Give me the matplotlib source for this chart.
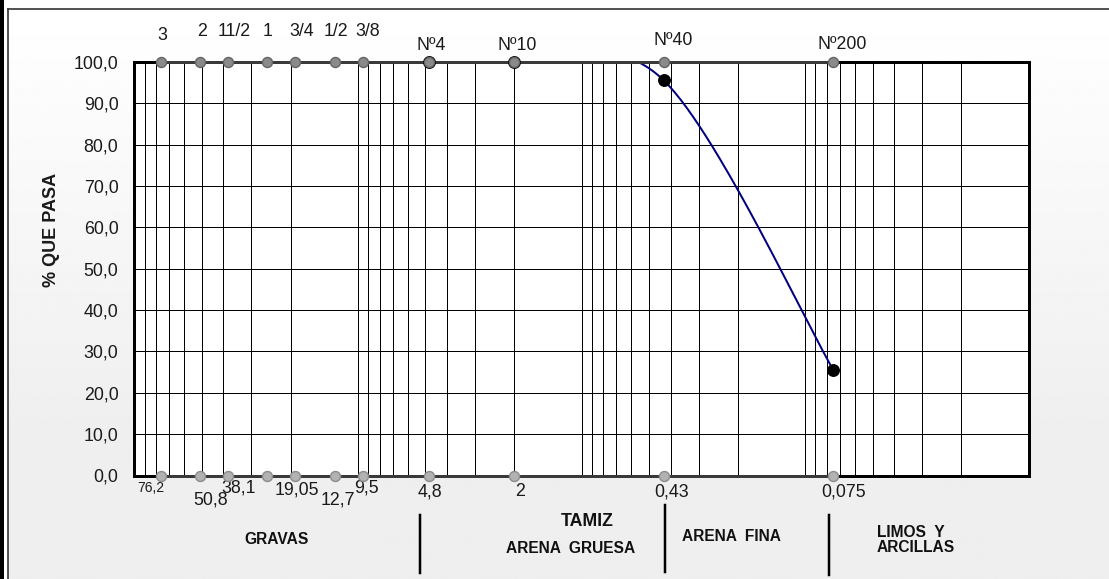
import numpy as np
import matplotlib
matplotlib.use("Agg")
import matplotlib.pyplot as plt
from matplotlib.lines import Line2D
from matplotlib.patches import Rectangle
from matplotlib.ticker import LogLocator, NullFormatter

plt.rcParams["font.family"] = ["Liberation Sans", "DejaVu Sans"]

# ---- sieve series -------------------------------------------------------
sieve_mm = [76.2, 50.8, 38.1, 25.4, 19.05, 12.7, 9.5, 4.8, 2.0, 0.43, 0.075]
sieve_names = ["3", "2", "11/2", "1", "3/4", "1/2", "3/8", "Nº4", "Nº10", "Nº40", "Nº200"]

opening_mm = [76.2, 50.8, 38.1, 19.05, 12.7, 9.5, 4.8, 2.0, 0.43, 0.075]
opening_text = ["76,2", "50,8", "38,1", "19,05", "12,7", "9,5", "4,8", "2", "0,43", "0,075"]

# ---- sample gradation ---------------------------------------------------
sample_mm = [4.8, 2.0, 0.43, 0.075]
sample_pass = [100.0, 100.0, 95.6, 25.6]

y_ticks = [0, 10, 20, 30, 40, 50, 60, 70, 80, 90, 100]

# ---- layout (pixels) ----------------------------------------------------
W, H, DPI = 1109, 579, 100
PX = 0.72  # points per pixel at 100 dpi
ax_left, ax_right, ax_top, ax_bottom = 134.4, 1028.8, 62.0, 475.5

# label offsets from their marker, in pixels (x right, y up)
name_dx = [1.7, 1.6, 6.4, 0.5, 6.4, 0.9, 4.9, 2.4, 3.2, 10.0, 9.2]
name_dy = [27, 30, 30, 30, 30, 30, 30, 17, 17, 21.5, 17.5]
open_dx = [-10.1, 10.2, 11.0, 1.5, 2.7, 3.5, 0.5, 5.3, 7.8, 10.0]
open_dy = [-12.2, -24.5, -12.8, -14.5, -24.5, -12.5, -16.2, -16.2, -16.8, -16.8]
open_size = [10, 12.8, 12.8, 12.8, 12.8, 12.8, 12.8, 12.8, 12.8, 12.8]

fig = plt.figure(figsize=(W / DPI, H / DPI), dpi=DPI)
fig.patch.set_facecolor("white")


def fx(x):
    return x / W


def fy(y):
    return 1 - y / H


# background panel with a soft vertical gradient
bg = fig.add_axes([fx(7.5), 0, 1 - fx(7.5), fy(9)], zorder=-5)
rows = np.linspace(0, 1, 300)
shade = np.clip(1.0 - 0.065 * rows / 0.75, 0.935, 1.0)
bg.imshow(np.repeat(shade[:, None], 2, axis=1), cmap="gray", vmin=0, vmax=1,
          aspect="auto", extent=[0, 1, 0, 1], origin="upper", interpolation="bilinear")
bg.set_axis_off()

# outer frame
fig.add_artist(Rectangle((0, 0), fx(4), 1, transform=fig.transFigure,
                         facecolor="black", edgecolor="none"))
fig.add_artist(Line2D([fx(7.5), fx(7.5)], [0, fy(9)], transform=fig.transFigure,
                      color="#333333", lw=1.2))
fig.add_artist(Line2D([fx(7.5), 1], [fy(9), fy(9)], transform=fig.transFigure,
                      color="#333333", lw=1.2))

ax = fig.add_axes([fx(ax_left), fy(ax_bottom), fx(ax_right - ax_left),
                   (ax_bottom - ax_top) / H])
ax.set_facecolor("white")
ax.set_xscale("log")
ax.set_xlim(100, 0.01)
ax.set_ylim(0, 100)

ax.xaxis.set_major_locator(LogLocator(base=10, numticks=20))
ax.xaxis.set_minor_locator(LogLocator(base=10, subs=np.arange(2, 10), numticks=20))
ax.xaxis.set_minor_formatter(NullFormatter())
ax.tick_params(axis="x", which="both", length=0, labelbottom=False)
ax.set_yticks(y_ticks)
ax.set_yticklabels([f"{v:.1f}".replace(".", ",") for v in y_ticks], fontsize=12.8)
ax.tick_params(axis="y", which="both", length=0, pad=16 * PX, colors="#1a1a1a")
ax.grid(True, which="both", axis="x", color="black", lw=1 * PX)
ax.grid(True, which="major", axis="y", color="black", lw=1 * PX)
ax.set_axisbelow(True)
for sp in ax.spines.values():
    sp.set_linewidth(3 * PX)
    sp.set_color("black")

# smoothed gradation curve (cubic Bezier through the points, in screen space)
pts = ax.transData.transform(np.column_stack([sample_mm, sample_pass]))
curve = []
n = len(pts)
for i in range(n - 1):
    p0 = pts[i - 1] if i > 0 else pts[i]
    p1, p2 = pts[i], pts[i + 1]
    p3 = pts[i + 2] if i + 2 < n else pts[i + 1]
    b1 = p1 + (p2 - p0) / 6.0
    b2 = p2 - (p3 - p1) / 6.0
    t = np.linspace(0, 1, 60)[:, None]
    seg = ((1 - t) ** 3) * p1 + 3 * ((1 - t) ** 2) * t * b1 + 3 * (1 - t) * t ** 2 * b2 + t ** 3 * p2
    curve.append(seg if i == 0 else seg[1:])
curve = ax.transData.inverted().transform(np.vstack(curve))
ax.plot(curve[:, 0], curve[:, 1], color="#000080", lw=2 * PX, zorder=2, solid_capstyle="round")

# sample points
ax.plot(sample_mm, sample_pass, ls="none", marker="o", ms=11.5 * PX, mfc="black",
        mec="black", zorder=5, clip_on=False)

# sieve reference lines on top and bottom edges
n_s = len(sieve_mm)
ax.plot(sieve_mm, [100] * n_s, color="#3a3a3a", lw=3 * PX, zorder=4, clip_on=False)
ax.plot(sieve_mm, [0] * n_s, color="#3a3a3a", lw=3 * PX, zorder=4, clip_on=False)
ax.plot(sieve_mm, [100] * n_s, ls="none", marker="o", ms=10 * PX, mfc="#8a8a8a",
        mec="#646464", mew=1.0, zorder=6, clip_on=False)
ax.plot(sieve_mm, [0] * n_s, ls="none", marker="o", ms=10 * PX, mfc="#b2b2b2",
        mec="#8c8c8c", mew=1.0, zorder=6, clip_on=False)

for mm, name, dx, dy in zip(sieve_mm, sieve_names, name_dx, name_dy):
    ax.annotate(name, (mm, 100), xytext=(dx, dy), textcoords="offset pixels",
                ha="center", va="center", fontsize=12.8, color="#1a1a1a",
                annotation_clip=False)

for mm, txt, dx, dy, fs in zip(opening_mm, opening_text, open_dx, open_dy, open_size):
    ax.annotate(txt, (mm, 0), xytext=(dx, dy), textcoords="offset pixels",
                ha="center", va="center", fontsize=fs, color="#1a1a1a",
                annotation_clip=False)

# axis title
fig.text(fx(51.7), fy(230), "% QUE PASA", rotation=90, ha="center", va="center",
         fontsize=13, fontweight="bold", color="#1a1a1a")

# soil fraction zones below the chart
for x, y0, y1 in [(419.6, 515, 573), (665.2, 505, 572), (828.5, 515, 575)]:
    fig.add_artist(Line2D([fx(x), fx(x)], [fy(y0), fy(y1)], transform=fig.transFigure,
                          color="black", lw=2.5 * PX))

zone_kw = dict(ha="center", va="center", fontweight="bold", color="#111111")
fig.text(fx(276.8), fy(539.3), "GRAVAS", fontsize=11.2, **zone_kw)
fig.text(fx(587), fy(521.7), "TAMIZ", fontsize=12.8, **zone_kw)
fig.text(fx(571), fy(548.3), "ARENA  GRUESA", fontsize=11.2, **zone_kw)
fig.text(fx(731.6), fy(536.7), "ARENA  FINA", fontsize=11.2, **zone_kw)
fig.text(fx(876.7), fy(540), "LIMOS  Y\nARCILLAS", fontsize=11.2, ha="left",
         va="center", fontweight="bold", color="#111111", linespacing=1.05)

fig.savefig("out.png", dpi=DPI)
